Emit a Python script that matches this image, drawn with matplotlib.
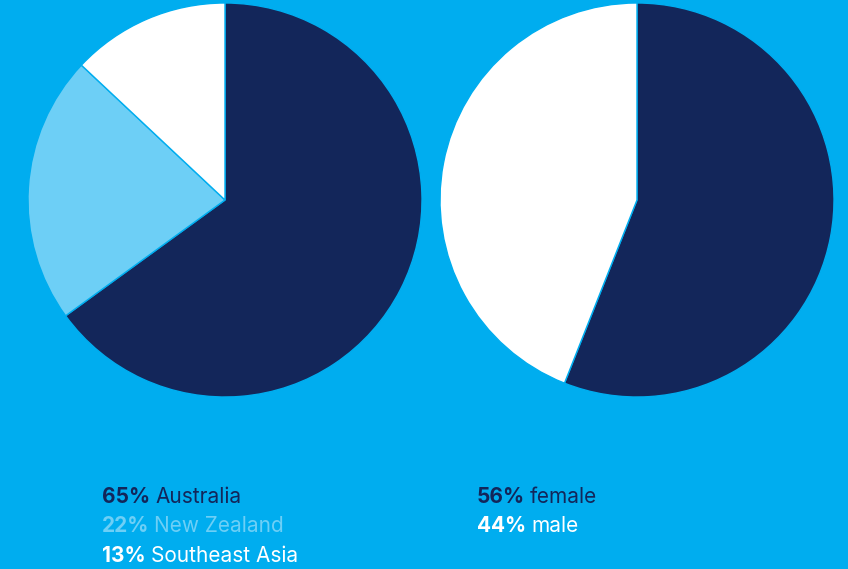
import matplotlib
matplotlib.use("Agg")
import matplotlib.pyplot as plt

# Data
origin_labels = ["Australia", "New Zealand", "Southeast Asia"]
origin_values = [65, 22, 13]
gender_labels = ["female", "male"]
gender_values = [56, 44]

BG = "#00adef"
NAVY = "#13265a"
LIGHT = "#6dcff6"
WHITE = "#ffffff"
origin_colors = [NAVY, LIGHT, WHITE]
gender_colors = [NAVY, WHITE]

W, H = 848, 569
fig = plt.figure(figsize=(W / 100, H / 100), dpi=100, facecolor=BG)
ax = fig.add_axes([0, 0, 1, 1])


def py(y):
    """Convert a top-down pixel row into the axes' bottom-up coordinate."""
    return H - y


wedge_style = dict(edgecolor=BG, linewidth=1.0)
ax.pie(origin_values, colors=origin_colors, startangle=90, counterclock=False,
       center=(225, py(200)), radius=197, wedgeprops=wedge_style, frame=True)
ax.pie(gender_values, colors=gender_colors, startangle=90, counterclock=False,
       center=(637, py(200)), radius=197, wedgeprops=wedge_style, frame=True)
ax.set_xlim(0, W)
ax.set_ylim(0, H)
ax.set_aspect("equal")
ax.axis("off")

FONT = "Inter"
SIZE = 15
renderer = fig.canvas.get_renderer()


def legend_line(x, y, value, label, color):
    t = ax.text(x, py(y), f"{value}%", fontsize=SIZE, fontweight="bold", color=color,
                family=FONT, va="center", ha="left")
    bb = t.get_window_extent(renderer=renderer)
    inv = ax.transData.inverted()
    x_end = inv.transform((bb.x1, bb.y0))[0]
    ax.text(x_end + 5, py(y), label, fontsize=SIZE, color=color, family=FONT,
            va="center", ha="left")


for i, (lab, val, col) in enumerate(zip(origin_labels, origin_values, origin_colors)):
    legend_line(102, 497 + 29.5 * i, val, lab, col)
for i, (lab, val, col) in enumerate(zip(gender_labels, gender_values, gender_colors)):
    legend_line(477, 497 + 29.5 * i, val, lab, col)

fig.savefig("out.png", dpi=100, facecolor=BG)
